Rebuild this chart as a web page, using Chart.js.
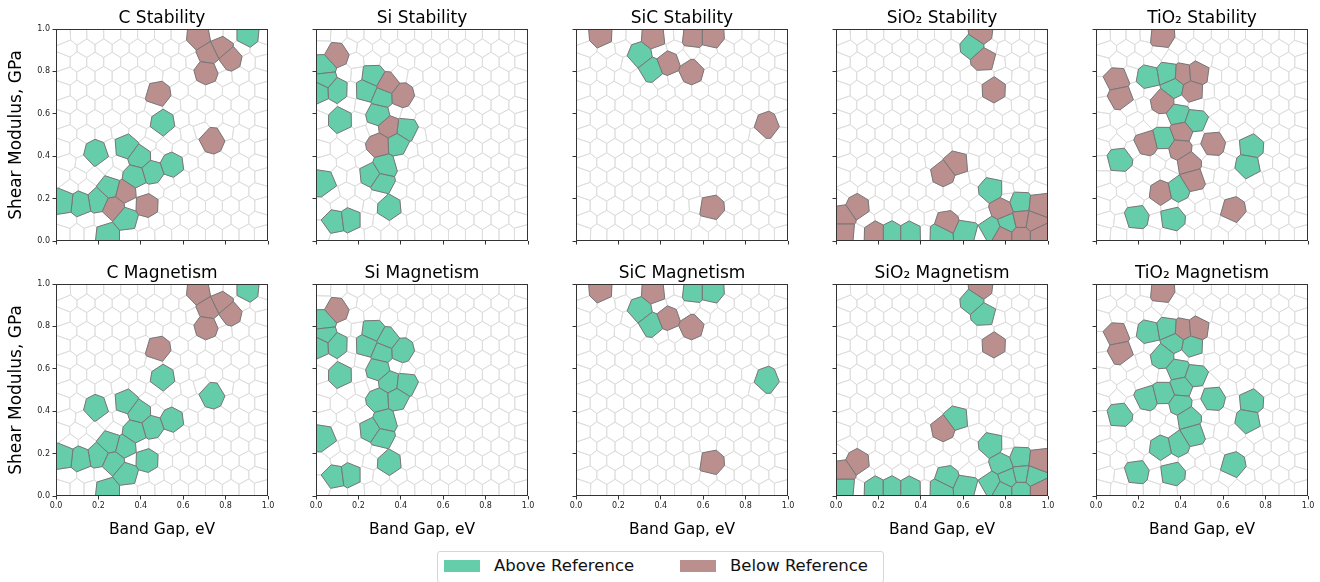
<!DOCTYPE html>
<html>
<head>
<meta charset="utf-8">
<script src="https://cdn.jsdelivr.net/npm/chart.js@4.4.0/dist/chart.umd.min.js"></script>
<style>
body { margin: 0; background: #fff; }
#fig { position: relative; width: 1320px; height: 582px; overflow: hidden; font-family: 'DejaVu Sans', sans-serif; }
#fig canvas { position: absolute; }
#legend { position: absolute; left: 437px; top: 551px; width: 447px; height: 32px; border: 1px solid #d6d6d6; border-radius: 3px; box-sizing: border-box; }
#legend .swatch { position: absolute; top: 8px; width: 36px; height: 12px; }
#legend .label { position: absolute; top: 4px; font-size: 16.5px; line-height: 20px; color: #111; white-space: nowrap; }
</style>
</head>
<body>
<div id="fig">
  <div id="legend">
    <div class="swatch" style="left:6px;background:#66cdaa"></div>
    <div class="label" style="left:56px">Above Reference</div>
    <div class="swatch" style="left:242px;background:#bc8f8f"></div>
    <div class="label" style="left:292px">Below Reference</div>
  </div>
</div>
<script>
const materials = ['C', 'Si', 'SiC', 'SiO₂', 'TiO₂'];
const properties = ['Stability', 'Magnetism'];
const tickValues = [0, 0.2, 0.4, 0.6, 0.8, 1.0];

// cell centres [band gap, shear modulus]
const cStabilityAbove = [[0.906,0.973],[0.502,0.558],[0.19,0.416],[0.33,0.445],[0.395,0.397],[0.545,0.358],[0.455,0.327],[0.372,0.303],[0.254,0.25],[0.2,0.192],[0.113,0.177],[0.038,0.185],[0.333,0.106],[0.239,0.027]];
const cStabilityBelow = [[0.673,0.962],[0.722,0.882],[0.78,0.91],[0.82,0.863],[0.71,0.80],[0.48,0.694],[0.736,0.476],[0.325,0.232],[0.27,0.16],[0.427,0.169]];
const cMagnetismAbove = [[0.906,0.973],[0.502,0.558],[0.736,0.476],[0.19,0.416],[0.33,0.445],[0.395,0.397],[0.545,0.358],[0.455,0.327],[0.372,0.303],[0.254,0.25],[0.325,0.232],[0.2,0.192],[0.27,0.16],[0.427,0.169],[0.113,0.177],[0.038,0.185],[0.333,0.106],[0.239,0.027]];
const cMagnetismBelow = [[0.673,0.962],[0.722,0.882],[0.78,0.91],[0.82,0.863],[0.71,0.80],[0.48,0.694]];

const siStabilityAbove = [[0.035,0.823],[0.042,0.76],[0.018,0.71],[0.097,0.713],[0.267,0.776],[0.239,0.713],[0.314,0.681],[0.294,0.595],[0.424,0.527],[0.383,0.461],[0.113,0.571],[0.035,0.274],[0.262,0.311],[0.325,0.35],[0.31,0.279],[0.345,0.158],[0.094,0.09],[0.157,0.098]];
const siStabilityBelow = [[0.097,0.879],[0.336,0.737],[0.403,0.685],[0.345,0.536],[0.298,0.457]];
const siMagnetismAbove = [[0.035,0.823],[0.042,0.76],[0.018,0.71],[0.097,0.713],[0.267,0.776],[0.239,0.713],[0.314,0.681],[0.336,0.737],[0.403,0.685],[0.294,0.595],[0.345,0.536],[0.298,0.457],[0.424,0.527],[0.383,0.461],[0.113,0.571],[0.035,0.274],[0.262,0.311],[0.325,0.35],[0.31,0.279],[0.345,0.158],[0.094,0.09],[0.157,0.098]];
const siMagnetismBelow = [[0.097,0.879]];

const sicStabilityAbove = [[0.301,0.879],[0.356,0.808]];
const sicStabilityBelow = [[0.116,0.973],[0.367,0.962],[0.553,0.965],[0.639,0.965],[0.435,0.839],[0.545,0.80],[0.901,0.547],[0.639,0.158]];
const sicMagnetismAbove = [[0.553,0.965],[0.639,0.965],[0.301,0.879],[0.356,0.808],[0.901,0.547]];
const sicMagnetismBelow = [[0.116,0.973],[0.367,0.962],[0.435,0.839],[0.545,0.80],[0.639,0.158]];

const sio2StabilityAbove = [[0.644,0.918],[0.733,0.243],[0.867,0.18],[0.733,0.058],[0.812,0.085],[0.262,0.035],[0.349,0.035],[0.493,0.035],[0.612,0.043]];
const sio2StabilityBelow = [[0.686,0.981],[0.697,0.858],[0.744,0.713],[0.568,0.366],[0.505,0.319],[0.1,0.161],[0.035,0.117],[0.035,0.043],[0.184,0.035],[0.518,0.085],[0.785,0.15],[0.874,0.1],[0.96,0.17],[0.93,0.09],[0.785,0.028],[0.874,0.028],[0.96,0.028]];
const sio2MagnetismAbove = [[0.644,0.918],[0.697,0.858],[0.568,0.366],[0.733,0.243],[0.518,0.085],[0.035,0.043],[0.184,0.035],[0.262,0.035],[0.349,0.035],[0.493,0.035],[0.612,0.043],[0.785,0.15],[0.867,0.18],[0.874,0.1],[0.812,0.085],[0.733,0.058],[0.785,0.028],[0.874,0.028],[0.93,0.09]];
const sio2MagnetismBelow = [[0.686,0.981],[0.744,0.713],[0.505,0.319],[0.1,0.161],[0.035,0.117],[0.96,0.17],[0.96,0.028]];

const tio2StabilityAbove = [[0.246,0.773],[0.34,0.789],[0.367,0.726],[0.388,0.595],[0.466,0.568],[0.32,0.484],[0.11,0.385],[0.733,0.445],[0.717,0.355],[0.388,0.244],[0.192,0.114],[0.361,0.106]];
const tio2StabilityBelow = [[0.309,0.965],[0.1,0.76],[0.116,0.681],[0.411,0.784],[0.477,0.789],[0.452,0.71],[0.314,0.658],[0.403,0.516],[0.239,0.464],[0.396,0.432],[0.435,0.369],[0.458,0.287],[0.309,0.227],[0.647,0.148],[0.549,0.461]];
const tio2MagnetismAbove = [[0.246,0.773],[0.34,0.789],[0.367,0.726],[0.452,0.71],[0.314,0.658],[0.388,0.595],[0.466,0.568],[0.403,0.516],[0.239,0.464],[0.32,0.484],[0.396,0.432],[0.435,0.369],[0.458,0.287],[0.388,0.244],[0.309,0.227],[0.549,0.461],[0.11,0.385],[0.733,0.445],[0.717,0.355],[0.647,0.148],[0.192,0.114],[0.361,0.106]];
const tio2MagnetismBelow = [[0.309,0.965],[0.1,0.76],[0.116,0.681],[0.411,0.784],[0.477,0.789]];

const panels = [
    [cStabilityAbove, cStabilityBelow], [siStabilityAbove, siStabilityBelow], [sicStabilityAbove, sicStabilityBelow],
    [sio2StabilityAbove, sio2StabilityBelow], [tio2StabilityAbove, tio2StabilityBelow],
    [cMagnetismAbove, cMagnetismBelow], [siMagnetismAbove, siMagnetismBelow], [sicMagnetismAbove, sicMagnetismBelow],
    [sio2MagnetismAbove, sio2MagnetismBelow], [tio2MagnetismAbove, tio2MagnetismBelow]
];

const GREEN = '#66cdaa';
const BROWN = '#bc8f8f';
const FONT = "'DejaVu Sans', sans-serif";
const DATA_WEIGHT = 0.0018;   // data cells drawn a bit larger than the empty ones

// empty background cells: staggered mesh, only used as texture behind the data cells
function meshSeeds() {
    const dx = 0.08, dy = 0.068, out = [];
    for (let j = 0; 0.03 + j * dy < 1.0; j++) {
        for (let i = 0; ; i++) {
            const x = 0.025 + i * dx + (j % 2) * dx / 2;
            if (x > 1.0) break;
            out.push({ x: x, y: 0.03 + j * dy, w: 0, color: null });
        }
    }
    return out;
}

function clipHalf(poly, a, b, c) {
    const out = [];
    for (let k = 0; k < poly.length; k++) {
        const P = poly[k], Q = poly[(k + 1) % poly.length];
        const fp = a * P[0] + b * P[1] - c, fq = a * Q[0] + b * Q[1] - c;
        if (fp <= 0) out.push(P);
        if ((fp < 0 && fq > 0) || (fp > 0 && fq < 0)) {
            const t = fp / (fp - fq);
            out.push([P[0] + t * (Q[0] - P[0]), P[1] + t * (Q[1] - P[1])]);
        }
    }
    return out;
}

// power-diagram cell of seed i inside the unit square
function cellPolygon(seeds, i) {
    const s = seeds[i];
    let poly = [[0, 0], [1, 0], [1, 1], [0, 1]];
    for (let j = 0; j < seeds.length && poly.length; j++) {
        if (j === i) continue;
        const o = seeds[j];
        if (Math.abs(o.x - s.x) > 0.3 || Math.abs(o.y - s.y) > 0.3) continue;
        const a = o.x - s.x, b = o.y - s.y;
        if (a === 0 && b === 0) continue;
        const c = (o.x * o.x + o.y * o.y - s.x * s.x - s.y * s.y + s.w - o.w) / 2;
        poly = clipHalf(poly, a, b, c);
    }
    return poly;
}

function centroid(poly) {
    let a = 0, cx = 0, cy = 0;
    for (let k = 0; k < poly.length; k++) {
        const P = poly[k], Q = poly[(k + 1) % poly.length];
        const cr = P[0] * Q[1] - Q[0] * P[1];
        a += cr; cx += (P[0] + Q[0]) * cr; cy += (P[1] + Q[1]) * cr;
    }
    if (Math.abs(a) < 1e-9) return null;
    return [cx / (3 * a), cy / (3 * a)];
}

function buildCells(dataSeeds) {
    let mesh = meshSeeds();
    // each data cell takes the place of the nearest mesh cell
    dataSeeds.forEach(s => {
        let best = -1, bd = Infinity;
        mesh.forEach((m, k) => {
            const d = Math.hypot(m.x - s.x, m.y - s.y);
            if (d < bd) { bd = d; best = k; }
        });
        if (best >= 0 && bd < 0.07) mesh.splice(best, 1);
    });
    mesh = mesh.filter(m => dataSeeds.every(s => Math.hypot(s.x - m.x, s.y - m.y) >= 0.038));
    const seeds = dataSeeds.concat(mesh);
    const n = dataSeeds.length;
    // relax the mesh around the fixed data cells
    for (let it = 0; it < 3; it++) {
        const moved = seeds.map((s, i) => {
            if (i < n) return s;
            const c = centroid(cellPolygon(seeds, i));
            return c ? { x: c[0], y: c[1], w: 0, color: null } : s;
        });
        for (let i = n; i < seeds.length; i++) seeds[i] = moved[i];
    }
    return seeds.map((s, i) => ({ color: s.color, poly: cellPolygon(seeds, i) }));
}

const voronoiPlugin = {
    id: 'voronoiCells',
    beforeDatasetsDraw(chart) {
        const { ctx, chartArea, scales } = chart;
        const dataSeeds = [];
        chart.data.datasets.forEach(ds => {
            ds.data.forEach(pt => dataSeeds.push({ x: pt.x, y: pt.y, w: DATA_WEIGHT, color: ds.backgroundColor }));
        });
        const cells = buildCells(dataSeeds);

        const trace = poly => {
            ctx.beginPath();
            poly.forEach((p, k) => {
                const px = scales.x.getPixelForValue(p[0]);
                const py = scales.y.getPixelForValue(p[1]);
                if (k) ctx.lineTo(px, py); else ctx.moveTo(px, py);
            });
            ctx.closePath();
        };

        ctx.save();
        ctx.beginPath();
        ctx.rect(chartArea.left, chartArea.top, chartArea.width, chartArea.height);
        ctx.clip();
        ctx.lineWidth = 0.9;
        ctx.strokeStyle = '#dcdcdc';
        cells.forEach(c => { if (!c.color && c.poly.length > 2) { trace(c.poly); ctx.stroke(); } });
        ctx.lineWidth = 1;
        ctx.strokeStyle = '#767676';
        cells.forEach(c => {
            if (c.color && c.poly.length > 2) {
                trace(c.poly);
                ctx.fillStyle = c.color;
                ctx.fill();
                ctx.stroke();
            }
        });
        ctx.restore();
    },
    afterDraw(chart) {
        const { ctx, chartArea } = chart;
        ctx.save();
        ctx.strokeStyle = '#333';
        ctx.lineWidth = 1;
        ctx.strokeRect(chartArea.left + 0.5, chartArea.top + 0.5, chartArea.width - 1, chartArea.height - 1);
        ctx.restore();
    }
};

const fig = document.getElementById('fig');
const PLOT = 212;

function makePanel(idx) {
    const row = Math.floor(idx / 5), col = idx % 5;
    const [above, below] = panels[idx];
    const L = col === 0 ? 56 : 20, R = 14, T = 24, B = row === 1 ? 45 : 8;
    const canvas = document.createElement('canvas');
    canvas.width = L + PLOT + R;
    canvas.height = T + PLOT + B;
    canvas.style.left = (56 + 260 * col - L) + 'px';
    canvas.style.top = ([29, 284][row] - T) + 'px';
    fig.appendChild(canvas);

    const toPoints = arr => arr.map(p => ({ x: p[0], y: p[1] }));

    new Chart(canvas, {
        type: 'scatter',
        data: {
            datasets: [
                { label: 'Above Reference', data: toPoints(above), backgroundColor: GREEN, pointRadius: 0 },
                { label: 'Below Reference', data: toPoints(below), backgroundColor: BROWN, pointRadius: 0 }
            ]
        },
        options: {
            responsive: false,
            animation: false,
            devicePixelRatio: 1,
            events: [],
            layout: { padding: { top: T - 22.4, right: R, left: 0, bottom: 0 } },
            plugins: {
                legend: { display: false },
                tooltip: { enabled: false },
                title: {
                    display: true,
                    fullSize: false,
                    text: materials[col] + ' ' + properties[row],
                    color: '#000',
                    font: { size: 17, family: FONT, weight: 'normal', lineHeight: 1.2 },
                    padding: { top: 2, bottom: 0 }
                }
            },
            scales: {
                x: {
                    type: 'linear', min: 0, max: 1,
                    afterFit: s => { s.height = B; },
                    afterBuildTicks: s => { s.ticks = tickValues.map(v => ({ value: v })); },
                    ticks: {
                        autoSkip: false, maxRotation: 0, padding: 2, color: '#222',
                        font: { size: 8, family: FONT },
                        callback: v => row === 1 ? v.toFixed(1) : ''
                    },
                    grid: { display: true, drawOnChartArea: false, drawTicks: true, tickLength: 3.5, tickColor: '#333', color: '#333' },
                    border: { display: false },
                    title: {
                        display: row === 1, text: 'Band Gap, eV', color: '#000',
                        font: { size: 15.5, family: FONT }, padding: { top: 0, bottom: 2 }
                    }
                },
                y: {
                    type: 'linear', min: 0, max: 1,
                    afterFit: s => { s.width = L; },
                    afterBuildTicks: s => { s.ticks = tickValues.map(v => ({ value: v })); },
                    ticks: {
                        autoSkip: false, padding: 2.5, color: '#222',
                        font: { size: 8, family: FONT },
                        callback: v => col === 0 ? v.toFixed(1) : ''
                    },
                    grid: { display: true, drawOnChartArea: false, drawTicks: true, tickLength: 3.5, tickColor: '#333', color: '#333' },
                    border: { display: false },
                    title: {
                        display: col === 0, text: 'Shear Modulus, GPa', color: '#000',
                        font: { size: 17, family: FONT }, padding: { top: 6, bottom: 0 }
                    }
                }
            }
        },
        plugins: [voronoiPlugin]
    });
}

for (let i = 0; i < 10; i++) makePanel(i);
</script>
</body>
</html>
